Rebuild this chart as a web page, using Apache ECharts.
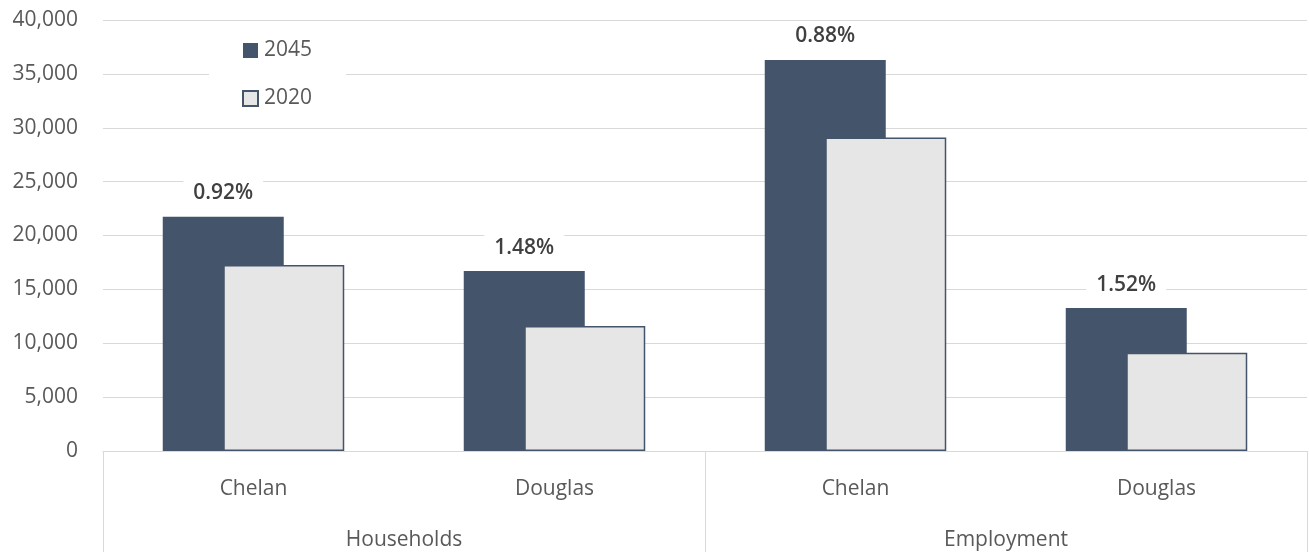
<!DOCTYPE html>
<html>
<head>
<meta charset="utf-8">
<script src="https://cdn.jsdelivr.net/npm/echarts@6/dist/echarts.min.js"></script>
<style>
  html, body { margin: 0; padding: 0; background: #fff; }
  #chart { width: 1309px; height: 552px; }
</style>
</head>
<body>
<div id="chart"></div>
<script>
// Sub-categories (counties) and their groups
const counties = ['Chelan', 'Douglas', 'Chelan', 'Douglas'];
const groups = ['Households', 'Employment'];

// Values by year
const values2045 = [21750, 16700, 36290, 13270];
const values2020 = [17270, 11600, 29100, 9120];

// Annual growth rate shown above each 2045 bar
const growthRates = ['0.92%', '1.48%', '0.88%', '1.52%'];

// Y axis range
const yMin = 0, yMax = 40000, yStep = 5000;

const DARK = '#44546A';
const LIGHT = '#E7E6E6';
const GRID = '#D9D9D9';
const TEXT = '#595959';
const FONT = '"Open Sans", "Noto Sans", sans-serif';
const FS = 21;

const chart = echarts.init(document.getElementById('chart'));
chart.setOption({
  animation: false,
  textStyle: { fontFamily: FONT },
  grid: { left: 103, right: 2, top: 20, bottom: 101, containLabel: false },
  legend: {
    orient: 'vertical',
    left: 209,
    top: 32,
    padding: [8, 34, 8, 33],
    backgroundColor: '#fff',
    itemWidth: 15,
    itemHeight: 15,
    itemGap: 27,
    icon: 'rect',
    textStyle: { fontFamily: FONT, fontSize: FS, color: TEXT, lineHeight: 21, padding: [0, 0, 0, 1] },
    data: ['2045', '2020']
  },
  xAxis: [
    {
      type: 'category',
      data: counties,
      position: 'bottom',
      axisLine: { show: true, lineStyle: { color: GRID, width: 1 } },
      axisTick: { show: false },
      axisLabel: { color: TEXT, fontSize: FS, fontFamily: FONT, margin: 28 }
    },
    {
      type: 'category',
      data: groups,
      position: 'bottom',
      axisLine: { show: false },
      axisTick: { show: true, length: 101, alignWithLabel: false, lineStyle: { color: GRID, width: 1 } },
      axisLabel: { color: TEXT, fontSize: FS, fontFamily: FONT, margin: 79 },
      splitLine: { show: false }
    }
  ],
  yAxis: {
    type: 'value',
    min: yMin,
    max: yMax,
    interval: yStep,
    axisLine: { show: false },
    axisTick: { show: false },
    splitLine: { lineStyle: { color: GRID, width: 1 } },
    axisLabel: {
      color: TEXT, fontSize: FS, fontFamily: FONT, margin: 25,
      formatter: v => v.toLocaleString('en-US')
    }
  },
  series: [
    {
      name: '2045',
      type: 'bar',
      xAxisIndex: 0,
      data: values2045,
      barWidth: 121,
      barGap: '-50%',
      itemStyle: { color: DARK },
      label: {
        show: true,
        position: 'top',
        distance: 10,
        formatter: p => growthRates[p.dataIndex],
        backgroundColor: '#fff',
        padding: [3, 10],
        color: '#404040',
        fontWeight: 600,
        fontSize: 21,
        fontFamily: FONT
      }
    },
    {
      name: '2020',
      type: 'bar',
      xAxisIndex: 0,
      data: values2020,
      barWidth: 121,
      barGap: '-50%',
      itemStyle: { color: LIGHT, borderColor: DARK, borderWidth: 1.5 }
    }
  ]
});
</script>
</body>
</html>
